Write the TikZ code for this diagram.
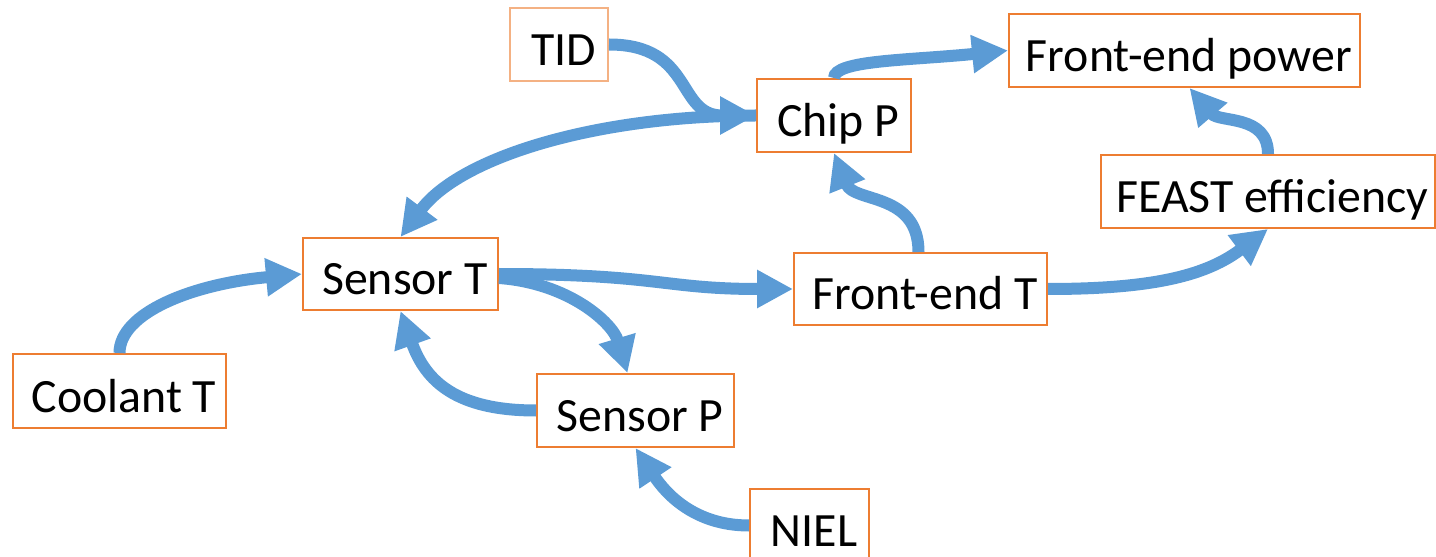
\documentclass[tikz,border=0pt]{standalone}
\usepackage{fontspec}
\setmainfont{Carlito}
\usetikzlibrary{arrows.meta}
\usetikzlibrary{positioning}
\definecolor{boxorange}{HTML}{ED7D31}
\definecolor{lightorange}{HTML}{F4B183}
\definecolor{arrowblue}{HTML}{5B9BD5}

\begin{document}
\begin{tikzpicture}[x=0.1mm,y=-0.1mm]
\useasboundingbox (0,0) rectangle (1436,557);
\begin{scope}[every node/.style={rectangle,draw=boxorange,line width=0.2mm,fill=white,
              minimum height=7.3mm,inner sep=0pt,text height=4.2mm,text depth=0pt,
              font=\fontsize{13.6pt}{15pt}\selectfont,
              execute at begin node=\hspace*{0.9mm}}]
    \node[draw=lightorange,minimum width=9.8mm] (tid) at (559,44.5) {TID};
    \node[minimum width=15.4mm] (chip) at (834,115.5) {Chip P};
    \node[minimum width=35.1mm] (fepower) at (1184.5,50.5) {Front-end power};
    \node[minimum width=33.4mm] (feast) at (1268,191.5) {FEAST efficiency};
    \node[minimum width=19.5mm,minimum height=7.2mm] (sensT) at (400.5,274) {Sensor T};
    \node[minimum width=25.3mm,minimum height=7.2mm] (feT) at (920.5,289) {Front-end T};
    \node[minimum width=21.3mm,minimum height=7.4mm] (coolT) at (119.5,391) {Coolant T};
    \node[minimum width=19.7mm] (sensP) at (635.5,410.5) {Sensor P};
    \node[minimum width=11.9mm] (niel) at (809.5,525.5) {NIEL};
\end{scope}
\begin{scope}[>={Triangle[length=3.6mm,width=3.6mm]},
              every path/.style={draw=arrowblue,line width=1.2mm}]
    \draw[->] (tid.east) .. controls +(85,0) and +(-80,0) .. (chip.west);
    \draw[->] (chip.north) .. controls +(0,-18) and +(-100,10) .. (fepower.west);
    \draw[->] (chip.west) .. controls +(-160,0) and +(60,-80) .. (sensT.north);
    \draw[->] (sensT.east) .. controls +(160,0) and +(-130,0) .. (feT.west);
    \draw[->] ([yshift=-0.4mm]sensT.east) .. controls +(70,5) and +(-15,-50) .. ([xshift=-0.8mm]sensP.north);
    \draw[->] (sensP.west) .. controls +(-80,0) and +(25,70) .. (sensT.south);
    \draw[->] (coolT.north) .. controls +(0,-40) and +(-110,10) .. (sensT.west);
    \draw[->] (niel.west) .. controls +(-55,0) and +(30,45) .. (sensP.south);
    \draw[->] ([xshift=-0.2mm]feT.north) .. controls +(0,-60) and +(20,50) .. (chip.south);
    \draw[->] (feT.east) .. controls +(110,0) and +(-60,45) .. (feast.south);
    \draw[->] (feast.north) .. controls +(0,-40) and +(30,35) .. ([xshift=0.5mm]fepower.south);
\end{scope}
\end{tikzpicture}
\end{document}
